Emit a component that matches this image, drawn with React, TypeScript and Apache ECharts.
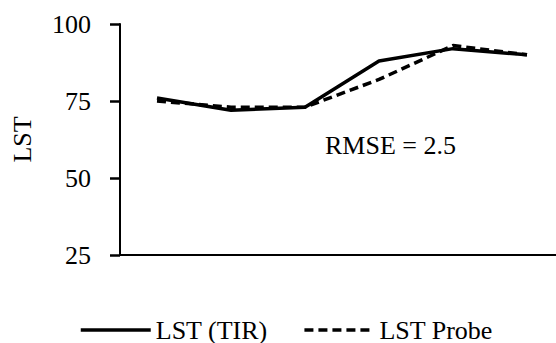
import React, { useEffect, useRef } from "react";
import * as echarts from "echarts";

// Sampling points along the x axis (axis labels are hidden)
const categories = ["1", "2", "3", "4", "5", "6"];
// Land surface temperature from thermal infrared
const lstTir = [76, 72, 73, 88, 92, 90];
// Land surface temperature from the ground probe
const lstProbe = [75, 73, 73, 82, 93, 90];
const yTicks = [25, 50, 75, 100];
const rmseLabel = "RMSE = 2.5";

const FONT = "'Liberation Serif', 'Times New Roman', serif";

export default function App() {
  const ref = useRef<HTMLDivElement>(null);

  useEffect(() => {
    if (!ref.current) return;
    const chart = echarts.init(ref.current, null, { renderer: "svg" });
    chart.setOption({
      animation: false,
      backgroundColor: "#ffffff",
      textStyle: { fontFamily: FONT, color: "#000" },
      grid: {
        left: 120,
        top: 24,
        bottom: 88,
        right: -8,
        containLabel: false,
        outerBoundsMode: "none",
      },
      legend: {
        left: 74,
        top: 312,
        itemWidth: 70,
        itemHeight: 14,
        itemGap: 35,
        itemStyle: { opacity: 0 },
        lineStyle: { width: 3.5, color: "#000" },
        textStyle: { fontFamily: FONT, fontSize: 26, color: "#000" },
        data: [
          { name: "LST (TIR)" },
          { name: "LST Probe" },
        ],
      },
      xAxis: {
        type: "category",
        data: categories,
        boundaryGap: true,
        axisLine: { show: true, lineStyle: { color: "#000", width: 2 } },
        axisTick: { show: false },
        axisLabel: { show: false },
        splitLine: { show: false },
      },
      yAxis: {
        type: "value",
        min: yTicks[0],
        max: yTicks[yTicks.length - 1],
        interval: 25,
        name: "LST",
        nameLocation: "middle",
        nameGap: 85,
        nameTextStyle: { fontFamily: FONT, fontSize: 26, color: "#000" },
        axisLine: { show: true, lineStyle: { color: "#000", width: 2 } },
        axisTick: { show: true, length: 10, inside: false, lineStyle: { color: "#000", width: 2.5 } },
        axisLabel: { margin: 29, fontFamily: FONT, fontSize: 26, color: "#000" },
        splitLine: { show: false },
      },
      series: [
        {
          name: "LST (TIR)",
          type: "line",
          data: lstTir,
          symbol: "none",
          lineStyle: { color: "#000", width: 3.5, type: "solid" },
          itemStyle: { color: "#000" },
        },
        {
          name: "LST Probe",
          type: "line",
          data: lstProbe,
          symbol: "none",
          lineStyle: { color: "#000", width: 3.5, type: [9, 5] },
          itemStyle: { color: "#000" },
        },
      ],
      graphic: [
        {
          type: "text",
          x: 325,
          y: 145,
          style: {
            text: rmseLabel,
            fontFamily: FONT,
            fontSize: 26,
            fill: "#000",
            verticalAlign: "middle",
            align: "left",
          },
        },
      ],
    });
    return () => chart.dispose();
  }, []);

  return (
    <div
      ref={ref}
      style={{ position: "fixed", left: 0, top: 0, width: 556, height: 343 }}
    />
  );
}
